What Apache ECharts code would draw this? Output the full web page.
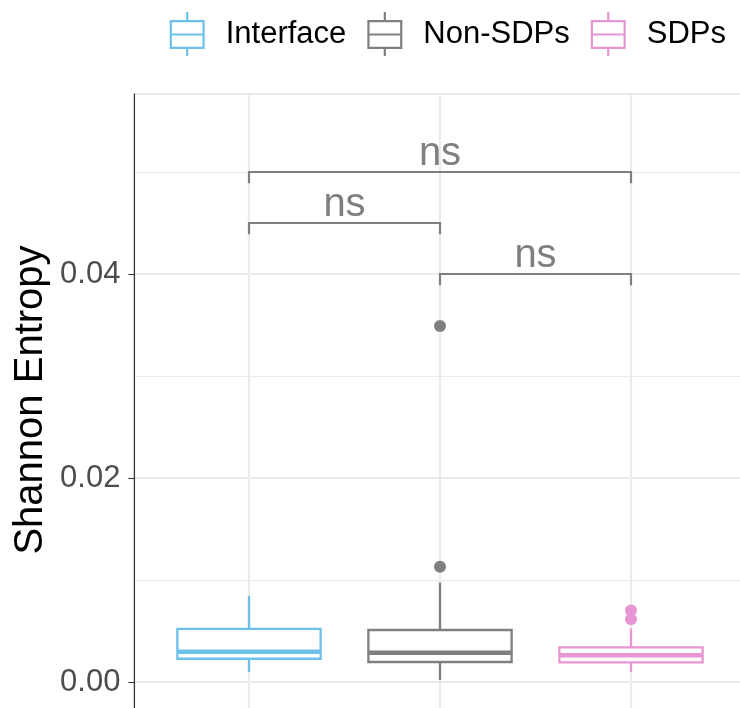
<!DOCTYPE html>
<html>
<head>
<meta charset="utf-8">
<script src="https://cdn.jsdelivr.net/npm/echarts@6/dist/echarts.min.js"></script>
<style>
  html, body { margin: 0; padding: 0; background: #fff; }
  #mainChart { width: 740px; height: 708px; }
</style>
</head>
<body>
<div id="mainChart"></div>
<script>
// groups and box statistics
var groups = ['Interface', 'Non-SDPs', 'SDPs'];
var groupPos = [1, 2, 3];
var boxMin = [0.00098, 0.0002, 0.00100];
var boxQ1 = [0.00228, 0.00196, 0.00193];
var boxMedian = [0.00297, 0.00287, 0.00262];
var boxQ3 = [0.00520, 0.00510, 0.00340];
var boxMax = [0.00843, 0.00974, 0.00526];
var outliers = [[], [0.0113, 0.0349], [0.0070, 0.00615]];

// significance brackets
var bracketFrom = [1, 2, 1];
var bracketTo = [2, 3, 3];
var bracketY = [0.045, 0.040, 0.050];
var bracketLabel = ['ns', 'ns', 'ns'];

var yTicks = [0, 0.02, 0.04];
var colors = ['#6cc0ea', '#7f7f7f', '#e896d3'];
var fontFamily = '"Liberation Sans", Arial, Helvetica, sans-serif';

var legendIcon = 'path://M16.4,0h2.2v8h-2.2z M0,8h35v2.2h-35z M0,34.8h35v2.2h-35z M0,8h2.2v29h-2.2z M32.8,8h2.2v29h-2.2z M0,21.4h35v2.2h-35z M16.4,37h2.2v7h-2.2z';

var myChart = echarts.init(document.getElementById('mainChart'), null, { renderer: 'canvas' });

function renderBox(params, api) {
    var x = api.value(0);
    var color = api.visual('color');
    var half = 0.375;
    var pMin = api.coord([x, api.value(1)]);
    var pQ1 = api.coord([x - half, api.value(2)]);
    var pMed = api.coord([x, api.value(3)]);
    var pQ3 = api.coord([x + half, api.value(4)]);
    var pMax = api.coord([x, api.value(5)]);
    var line = { stroke: color, lineWidth: 2.3 };
    return {
        type: 'group',
        children: [{
            type: 'line',
            shape: { x1: pMax[0], y1: pMax[1], x2: pMax[0], y2: pQ3[1] },
            style: line
        }, {
            type: 'line',
            shape: { x1: pMin[0], y1: pMin[1], x2: pMin[0], y2: pQ1[1] },
            style: line
        }, {
            type: 'rect',
            shape: { x: pQ1[0], y: pQ3[1], width: pQ3[0] - pQ1[0], height: pQ1[1] - pQ3[1] },
            style: { fill: '#fff', stroke: color, lineWidth: 2.3 }
        }, {
            type: 'line',
            shape: { x1: pQ1[0], y1: pMed[1], x2: pQ3[0], y2: pMed[1] },
            style: { stroke: color, lineWidth: 4.6 }
        }]
    };
}

function renderBracket(params, api) {
    var x1 = api.value(0), x2 = api.value(1), y = api.value(2);
    var tick = 0.0011;
    var a = api.coord([x1, y - tick]);
    var b = api.coord([x1, y]);
    var c = api.coord([x2, y]);
    var d = api.coord([x2, y - tick]);
    return {
        type: 'group',
        children: [{
            type: 'polyline',
            shape: { points: [a, b, c, d] },
            style: { stroke: '#7f7f7f', lineWidth: 2.2, fill: null }
        }, {
            type: 'text',
            x: (b[0] + c[0]) / 2,
            y: b[1] - 18,
            style: {
                text: bracketLabel[params.dataIndex],
                fill: '#7f7f7f',
                font: '40px ' + fontFamily,
                align: 'center',
                verticalAlign: 'middle'
            }
        }]
    };
}

function renderVGrid(params, api) {
    var p = api.coord([api.value(0), 0]);
    var cs = params.coordSys;
    return {
        type: 'line',
        shape: { x1: p[0], y1: cs.y, x2: p[0], y2: cs.y + cs.height },
        style: { stroke: '#ebebeb', lineWidth: 2.2 }
    };
}

var series = [{
    name: 'vgrid',
    type: 'custom',
    silent: true,
    z: 1,
    renderItem: renderVGrid,
    data: groupPos.map(function (v) { return [v]; })
}];

groups.forEach(function (g, i) {
    series.push({
        name: g,
        type: 'custom',
        silent: true,
        z: 3,
        itemStyle: { color: colors[i] },
        renderItem: renderBox,
        encode: { x: 0, y: [1, 2, 3, 4, 5] },
        data: [[groupPos[i], boxMin[i], boxQ1[i], boxMedian[i], boxQ3[i], boxMax[i]]]
    });
    if (outliers[i].length) {
        series.push({
            type: 'scatter',
            silent: true,
            z: 4,
            symbol: 'circle',
            symbolSize: 12,
            itemStyle: { color: colors[i], opacity: 1 },
            data: outliers[i].map(function (v) { return [groupPos[i], v]; })
        });
    }
});

series.push({
    type: 'custom',
    silent: true,
    z: 5,
    renderItem: renderBracket,
    encode: { x: [0, 1], y: 2 },
    data: bracketFrom.map(function (f, i) { return [f, bracketTo[i], bracketY[i]]; })
});

var option = {
    animation: false,
    backgroundColor: '#fff',
    textStyle: { fontFamily: fontFamily },
    legend: {
        right: 9,
        top: 7,
        itemWidth: 35,
        itemHeight: 44,
        itemGap: 21,
        selectedMode: false,
        textStyle: { fontSize: 31, color: '#000', fontFamily: fontFamily, padding: [0, 0, 0, 16] },
        data: groups.map(function (g) { return { name: g, icon: legendIcon }; })
    },
    grid: {
        left: 134.4,
        right: -5.6,
        top: 94,
        bottom: -178,
        show: true,
        borderColor: '#333',
        borderWidth: 1.1,
        backgroundColor: '#fff',
        containLabel: false,
        outerBoundsMode: 'none'
    },
    xAxis: {
        type: 'value',
        min: 0.4,
        max: 3.6,
        axisLine: { show: false },
        axisTick: { show: false },
        axisLabel: { show: false },
        splitLine: { show: false }
    },
    yAxis: [{
        type: 'value',
        min: -0.02,
        max: 0.057647,
        interval: 0.02,
        axisLine: { show: true, lineStyle: { color: '#333', width: 1.1 } },
        axisTick: { show: true, length: 6, lineStyle: { color: '#333', width: 1.1 } },
        axisLabel: {
            margin: 14,
            fontSize: 31,
            color: '#4d4d4d',
            fontFamily: fontFamily,
            showMaxLabel: false,
            formatter: function (v) {
                for (var i = 0; i < yTicks.length; i++) {
                    if (Math.abs(v - yTicks[i]) < 1e-9) return yTicks[i].toFixed(2);
                }
                return '';
            }
        },
        splitLine: { show: true, lineStyle: { color: '#ebebeb', width: 2.2 } }
    }, {
        type: 'value',
        min: -0.02,
        max: 0.057647,
        interval: 0.01,
        axisLine: { show: false },
        axisTick: { show: false },
        axisLabel: { show: false },
        splitLine: { show: true, lineStyle: { color: '#ebebeb', width: 1.1 } }
    }],
    graphic: [{
        type: 'text',
        x: 31,
        y: 400,
        rotation: Math.PI / 2,
        style: {
            text: 'Shannon Entropy',
            font: '40px ' + fontFamily,
            fill: '#000',
            align: 'center',
            verticalAlign: 'middle'
        }
    }],
    series: series
};

myChart.setOption(option);
</script>
</body>
</html>
